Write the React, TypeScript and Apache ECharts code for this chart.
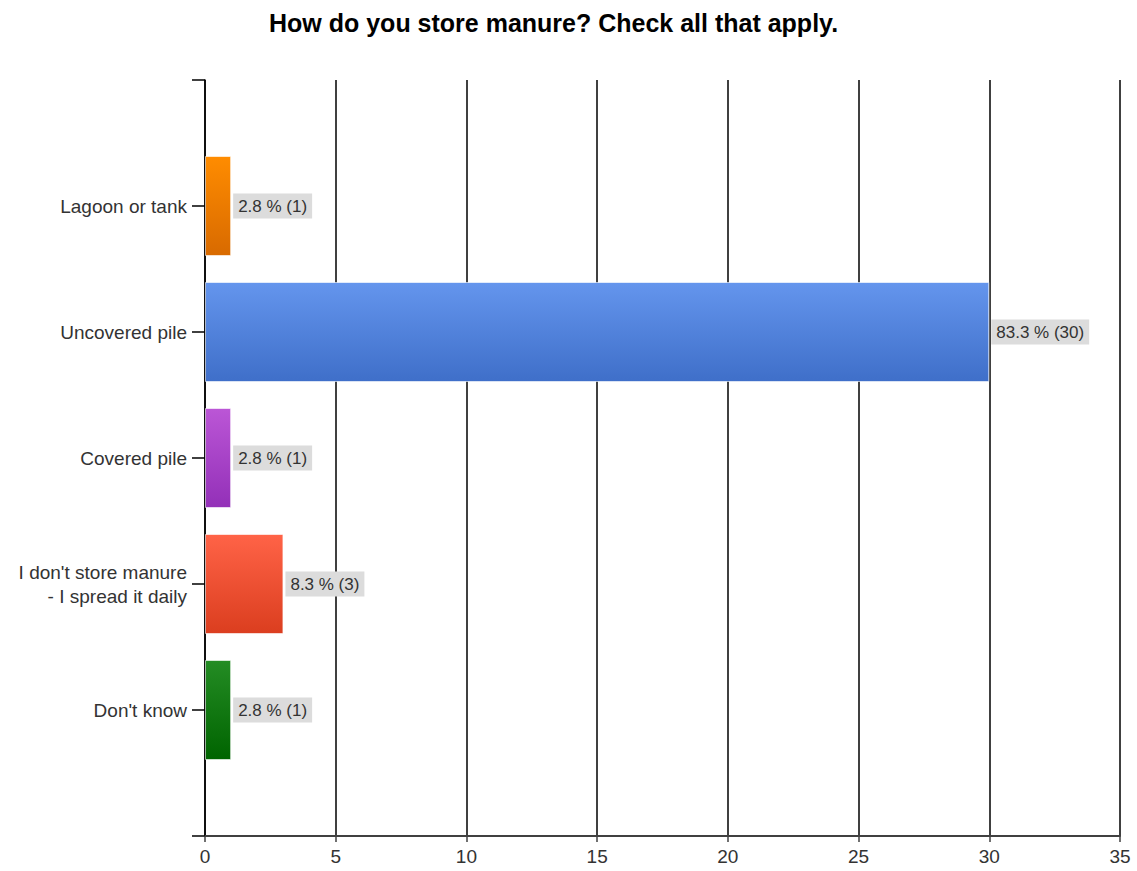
import React, { useEffect, useRef } from "react";
import * as echarts from "echarts";

const title = "How do you store manure? Check all that apply.";
const categories = [
  "Lagoon or tank",
  "Uncovered pile",
  "Covered pile",
  "I don't store manure\n- I spread it daily",
  "Don't know",
];
const counts = [1, 30, 1, 3, 1];
const percents = [2.8, 83.3, 2.8, 8.3, 2.8];
const xTicks = { min: 0, max: 35, interval: 5 };
const barColors: [string, string][] = [
  ["#ff8c00", "#d86a00"],
  ["#6495ed", "#3f6fc9"],
  ["#bb56d6", "#9330b8"],
  ["#ff6347", "#db3e1f"],
  ["#248c24", "#006400"],
];

const FONT = "'Liberation Sans', Arial, sans-serif";

export default function App() {
  const ref = useRef<HTMLDivElement>(null);
  useEffect(() => {
    if (!ref.current) return;
    const chart = echarts.init(ref.current, undefined, { renderer: "svg" });
    const yData = ["", ...categories, ""];
    const seriesData = [
      { value: "-" as any },
      ...counts.map((c, i) => ({
        value: c,
        pct: percents[i],
        itemStyle: {
          color: new echarts.graphic.LinearGradient(0, 0, 0, 1, [
            { offset: 0, color: barColors[i][0] },
            { offset: 1, color: barColors[i][1] },
          ]),
          borderColor: "rgba(255,255,255,0.6)",
          borderWidth: 1,
        },
      })),
      { value: "-" as any },
    ];
    chart.setOption({
      animation: false,
      backgroundColor: "#ffffff",
      title: {
        text: title,
        left: 264,
        top: 5,
        textStyle: {
          fontFamily: FONT,
          fontSize: 25,
          fontWeight: "bold",
          color: "#000",
        },
      },
      grid: { left: 205, right: 17, top: 80, bottom: 35, containLabel: false },
      xAxis: {
        type: "value",
        min: xTicks.min,
        max: xTicks.max,
        interval: xTicks.interval,
        axisLine: { show: true, lineStyle: { color: "#404040", width: 2 } },
        axisTick: { show: true, length: 6, lineStyle: { color: "#404040", width: 1.5 } },
        axisLabel: {
          color: "#333",
          fontFamily: FONT,
          fontSize: 19,
          margin: 11,
        },
        splitLine: { show: true, lineStyle: { color: "#000", width: 1.5 } },
      },
      yAxis: {
        type: "category",
        data: yData,
        inverse: true,
        boundaryGap: false,
        axisLine: { show: true, lineStyle: { color: "#000", width: 1.5 } },
        axisTick: { show: true, length: 13, alignWithLabel: true, lineStyle: { color: "#000", width: 1.5 } },
        axisLabel: {
          color: "#333",
          fontFamily: FONT,
          fontSize: 19,
          margin: 18,
          lineHeight: 24,
          align: "right",
        },
        splitLine: { show: false },
      },
      series: [
        {
          type: "bar",
          data: seriesData,
          barWidth: 100,
          label: {
            show: true,
            position: "right",
            distance: 2,
            formatter: (p: any) => `${p.data.pct} % (${p.data.value})`,
            backgroundColor: "#dcdcdc",
            padding: [4, 5, 4, 5],
            color: "#333",
            fontFamily: FONT,
            fontSize: 17,
          },
        },
      ],
    });
    return () => chart.dispose();
  }, []);
  return (
    <div
      ref={ref}
      style={{ position: "fixed", left: 0, top: 0, width: 1137, height: 871 }}
    />
  );
}
